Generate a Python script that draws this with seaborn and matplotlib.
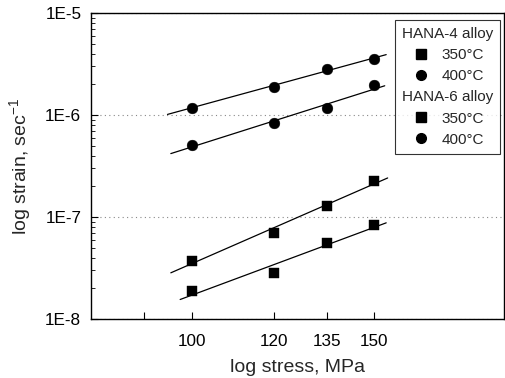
import numpy as np
import pandas as pd
import matplotlib
matplotlib.use("Agg")
import matplotlib.pyplot as plt
import seaborn as sns
from matplotlib.lines import Line2D
from matplotlib.ticker import FixedLocator, NullFormatter, LogLocator, FuncFormatter

sns.set_style("white")
plt.rcParams['font.family'] = ['Liberation Sans', 'DejaVu Sans']

stress = [100, 120, 135, 150]
hana4_400 = [1.18e-6, 1.90e-6, 2.83e-6, 3.56e-6]
hana6_400 = [5.1e-7, 8.3e-7, 1.18e-6, 1.95e-6]
hana4_350 = [3.73e-8, 7.0e-8, 1.29e-7, 2.27e-7]
hana6_350 = [1.88e-8, 2.8e-8, 5.6e-8, 8.35e-8]

series_names = ["HANA-4 400", "HANA-6 400", "HANA-4 350", "HANA-6 350"]
series_vals = [hana4_400, hana6_400, hana4_350, hana6_350]
series_markers = ["o", "o", "s", "s"]
fit_ranges = [[94.8, 154], [95.5, 153.5], [95.5, 154.5], [97.5, 154]]

x_ticks = [100, 120, 135, 150]
y_ticks = [1e-8, 1e-7, 1e-6, 1e-5]
y_labels = ["1E-8", "1E-7", "1E-6", "1E-5"]

fig = plt.figure(figsize=(5.05, 3.78), dpi=100)
ax = fig.add_axes([91/505, (378-319)/378, (504-91)/505, (319-13)/378])

for name, vals, mk, fr in zip(series_names, series_vals, series_markers, fit_ranges):
    df = pd.DataFrame({"x": stress, "y": vals})
    sns.scatterplot(data=df, x="x", y="y", marker=mk, color="black",
                    s=60 if mk == "o" else 48, edgecolor="black", linewidth=0.3,
                    ax=ax, zorder=3)
    coef = np.polyfit(np.log10(stress), np.log10(vals), 1)
    fx = np.array(fr)
    fy = 10 ** np.polyval(coef, np.log10(fx))
    sns.lineplot(x=fx, y=fy, color="black", lw=0.9, ax=ax, zorder=2)

ax.set_xscale("log")
ax.set_yscale("log")
ax.set_xlim(80, 200)
ax.set_ylim(1e-8, 1e-5)

ax.xaxis.set_major_locator(FixedLocator(x_ticks))
ax.xaxis.set_major_formatter(FuncFormatter(lambda v, p: f"{v:.0f}"))
ax.xaxis.set_minor_locator(FixedLocator([90]))
ax.xaxis.set_minor_formatter(NullFormatter())
ax.yaxis.set_major_locator(FixedLocator(y_ticks))
ax.set_yticklabels(y_labels)
ax.yaxis.set_minor_locator(LogLocator(base=10, subs=np.arange(2, 10)))
ax.yaxis.set_minor_formatter(NullFormatter())

ax.tick_params(axis="both", which="both", direction="in", colors="black",
               labelsize=12.3, bottom=True, left=True, top=False, right=False)
ax.tick_params(axis="x", which="major", length=5, width=0.8, pad=11)
ax.tick_params(axis="x", which="minor", length=5, width=0.8)
ax.tick_params(axis="y", which="major", length=5, width=0.8, pad=7)
ax.tick_params(axis="y", which="minor", length=3, width=0.6)

for sp in ax.spines.values():
    sp.set_color("black")
    sp.set_linewidth(1.0)

ax.grid(axis="y", which="major", linestyle=(0, (1, 3)), color="#888888", lw=0.8)
ax.grid(axis="x", visible=False)

ax.set_xlabel("log stress, MPa", fontsize=14, labelpad=7)
ax.set_ylabel("log strain, sec$^{\\mathregular{-1}}$", fontsize=14, labelpad=8)

handles = [
    Line2D([], [], linestyle="none", marker=None),
    Line2D([], [], linestyle="none", marker="s", color="black", markersize=6.5),
    Line2D([], [], linestyle="none", marker="o", color="black", markersize=7),
    Line2D([], [], linestyle="none", marker=None),
    Line2D([], [], linestyle="none", marker="s", color="black", markersize=6.5),
    Line2D([], [], linestyle="none", marker="o", color="black", markersize=7),
]
labels = ["HANA-4 alloy", "350°C", "400°C", "HANA-6 alloy", "350°C", "400°C"]
leg = ax.legend(handles, labels, loc="upper right", bbox_to_anchor=(0.99, 0.977),
                borderaxespad=0, fontsize=11, frameon=True, fancybox=False,
                handlelength=2.5, handletextpad=0.1, labelspacing=0.47,
                borderpad=0.45, edgecolor="black")
leg.get_frame().set_linewidth(0.8)

# headers start at the left edge of the legend (no handle slot)
col = leg._legend_handle_box.get_children()[0]
rows = col.get_children()
for i in (0, 3):
    rows[i]._children = [rows[i]._children[1]]

fig.savefig("out.png", dpi=100)
